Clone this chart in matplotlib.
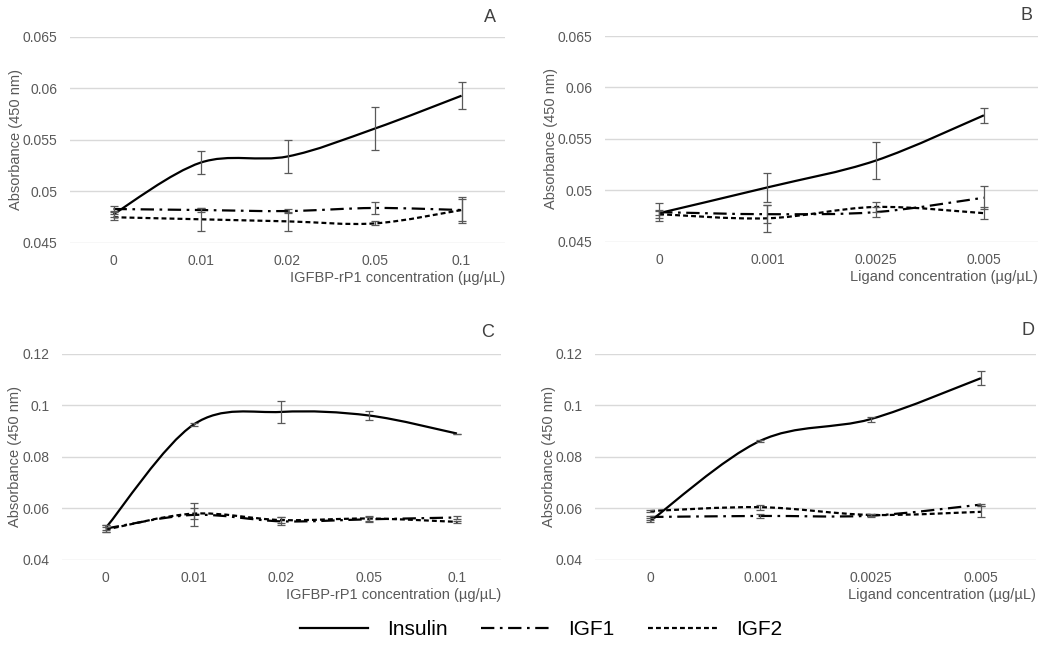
import matplotlib
matplotlib.use('Agg')
import matplotlib.pyplot as plt
from matplotlib.path import Path
from matplotlib.patches import PathPatch
from matplotlib.lines import Line2D
import numpy as np

plt.rcParams['font.family'] = ['Liberation Sans', 'DejaVu Sans']

# panel A / C: IGFBP-rP1 concentration, panel B / D: ligand concentration
cats_rp1 = ['0', '0.01', '0.02', '0.05', '0.1']
cats_lig = ['0', '0.001', '0.0025', '0.005']

# A
a_ins = [0.0478, 0.0528, 0.0534, 0.0561, 0.0593]
a_ins_err = [0.0003, 0.0011, 0.0016, 0.0021, 0.0013]
a_igf1 = [0.0483, 0.0482, 0.0481, 0.0484, 0.0482]
a_igf1_err = [0.0003, 0.0002, 0.0002, 0.0006, 0.0013]
a_igf2 = [0.0475, 0.0473, 0.0471, 0.0469, 0.0482]
a_igf2_err = [0.0003, 0.0011, 0.0009, 0.0002, 0.0011]

# B
b_ins = [0.0478, 0.0503, 0.0529, 0.0573]
b_ins_err = [0.0002, 0.0014, 0.0018, 0.0007]
b_igf1 = [0.0479, 0.0477, 0.0479, 0.0493]
b_igf1_err = [0.0009, 0.0009, 0.0005, 0.0011]
b_igf2 = [0.0477, 0.0473, 0.0484, 0.0478]
b_igf2_err = [0.0004, 0.0013, 0.0005, 0.0006]

# C
c_ins = [0.0525, 0.0926, 0.0975, 0.0961, 0.0891]
c_ins_err = [0.0010, 0.0007, 0.0043, 0.0018, 0.0]
c_igf1 = [0.0522, 0.0575, 0.0550, 0.0558, 0.0565]
c_igf1_err = [0.0015, 0.0045, 0.0015, 0.0010, 0.0005]
c_igf2 = [0.0518, 0.0580, 0.0555, 0.0561, 0.0548]
c_igf2_err = [0.0010, 0.0020, 0.0010, 0.0008, 0.0005]

# D
d_ins = [0.0551, 0.0863, 0.0947, 0.1106]
d_ins_err = [0.0003, 0.0003, 0.0010, 0.0028]
d_igf1 = [0.0567, 0.0571, 0.0572, 0.0615]
d_igf1_err = [0.0003, 0.0007, 0.0005, 0.0004]
d_igf2 = [0.0590, 0.0605, 0.0575, 0.0587]
d_igf2_err = [0.0003, 0.0010, 0.0005, 0.0022]

ticks_small = [0.045, 0.05, 0.055, 0.06, 0.065]
ticklabels_small = ['0.045', '0.05', '0.055', '0.06', '0.065']
ticks_big = [0.04, 0.06, 0.08, 0.1, 0.12]
ticklabels_big = ['0.04', '0.06', '0.08', '0.1', '0.12']

GREY = '#595959'
styles = {
    'Insulin': '-',
    'IGF1': (0, (6, 2.5, 1.2, 2.5)),
    'IGF2': (0, (2.2, 1.4)),
}


def smooth_path(x, y):
    # excel-like smoothed line (catmull-rom as cubic bezier)
    pts = np.column_stack([x, y]).astype(float)
    p = np.vstack([pts[0], pts, pts[-1]])
    verts = [pts[0]]
    codes = [Path.MOVETO]
    for i in range(1, len(p) - 2):
        c1 = p[i] + (p[i + 1] - p[i - 1]) / 6
        c2 = p[i + 1] - (p[i + 2] - p[i]) / 6
        verts += [c1, c2, p[i + 1]]
        codes += [Path.CURVE4] * 3
    return Path(verts, codes)


def panel(rect, cats, series, ticks, ticklabels, xlabel, letter, letter_pos):
    ax = fig.add_axes(rect)
    x = np.arange(len(cats))
    for name, vals, err in series:
        ax.add_patch(PathPatch(smooth_path(x, vals), facecolor='none',
                               edgecolor='black', lw=1.6, ls=styles[name],
                               capstyle='butt', zorder=3))
        ax.errorbar(x, vals, yerr=err, fmt='none', ecolor=GREY,
                    elinewidth=0.9, capsize=3, capthick=0.9, zorder=4)
    ax.set_xlim(-0.5, len(cats) - 0.5)
    ax.set_ylim(ticks[0], ticks[-1])
    ax.set_xticks(x)
    ax.set_xticklabels(cats)
    ax.set_yticks(ticks)
    ax.set_yticklabels(ticklabels)
    ax.tick_params(length=0, labelsize=10, labelcolor=GREY)
    ax.tick_params(axis='y', pad=9)
    ax.tick_params(axis='x', pad=8)
    for s in ax.spines.values():
        s.set_visible(False)
    ax.grid(axis='y', color='#d9d9d9', lw=1)
    ax.set_axisbelow(True)
    ax.set_ylabel('Absorbance (450 nm)', fontsize=10.5, color=GREY, labelpad=0)
    ax.set_xlabel(xlabel, fontsize=10.5, color=GREY, loc='right', labelpad=2)
    fig.text(letter_pos[0], letter_pos[1], letter, fontsize=13, color='#404040',
             ha='center', va='center')
    return ax


fig = plt.figure(figsize=(10.5, 6.63), dpi=100)

panel([0.0667, 0.6335, 0.4143, 0.3107], cats_rp1,
      [('Insulin', a_ins, a_ins_err), ('IGF1', a_igf1, a_igf1_err), ('IGF2', a_igf2, a_igf2_err)],
      ticks_small, ticklabels_small, 'IGFBP-rP1 concentration (µg/µL)', 'A', (0.4667, 0.9729))
panel([0.5762, 0.6350, 0.4124, 0.3107], cats_lig,
      [('Insulin', b_ins, b_ins_err), ('IGF1', b_igf1, b_igf1_err), ('IGF2', b_igf2, b_igf2_err)],
      ticks_small, ticklabels_small, 'Ligand concentration (µg/µL)', 'B', (0.978, 0.977))
panel([0.0590, 0.1554, 0.4180, 0.3107], cats_rp1,
      [('Insulin', c_ins, c_ins_err), ('IGF1', c_igf1, c_igf1_err), ('IGF2', c_igf2, c_igf2_err)],
      ticks_big, ticklabels_big, 'IGFBP-rP1 concentration (µg/µL)', 'C', (0.4648, 0.4992))
panel([0.5667, 0.1554, 0.4200, 0.3107], cats_lig,
      [('Insulin', d_ins, d_ins_err), ('IGF1', d_igf1, d_igf1_err), ('IGF2', d_igf2, d_igf2_err)],
      ticks_big, ticklabels_big, 'Ligand concentration (µg/µL)', 'D', (0.979, 0.502))

handles = [Line2D([], [], color='black', lw=1.6, ls=styles[n]) for n in styles]
fig.legend(handles, list(styles), loc='center', bbox_to_anchor=(0.515, 0.05),
           ncol=3, frameon=False, fontsize=15, handlelength=3.3,
           handletextpad=0.9, columnspacing=1.6)

fig.savefig('out.png', dpi=100)
